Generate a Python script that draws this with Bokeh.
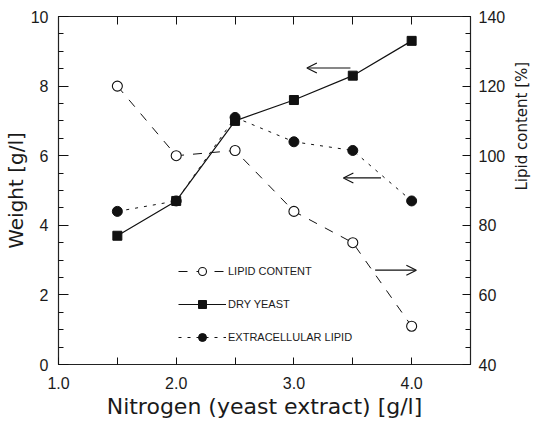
import math
from bokeh.plotting import figure
from bokeh.models import (Range1d, LinearAxis, FixedTicker, Legend, LegendItem,
                          Arrow, OpenHead, PrintfTickFormatter, ColumnDataSource)
from bokeh.embed import file_html
from bokeh.resources import INLINE

# ---- data ----
nitrogen = [1.5, 2.0, 2.5, 3.0, 3.5, 4.0]
lipid_content = [120, 100, 101.5, 84, 75, 51]          # right axis [%]
dry_yeast = [3.7, 4.7, 7.0, 7.6, 8.3, 9.3]              # left axis [g/l]
extracellular_lipid = [4.4, 4.7, 7.1, 6.4, 6.15, 4.7]   # left axis [g/l]

x_major = [1.0, 2.0, 3.0, 4.0]
x_minor = [1.5, 2.5, 3.5]
x_top = [1.5, 2.0, 2.5, 3.0, 3.5, 4.0]
y_left_major = [0, 2, 4, 6, 8, 10]
y_right_major = [40, 60, 80, 100, 120, 140]

series_labels = ["LIPID CONTENT", "DRY YEAST", "EXTRACELLULAR LIPID"]

INK = "#111111"
FONT = "Liberation Sans"
LFONT = "DejaVu Sans"

p = figure(width=542, height=421, x_range=Range1d(1.0, 4.5), y_range=Range1d(0, 10),
           output_backend="svg", toolbar_location=None,
           min_border_left=58, min_border_right=69, min_border_top=16, min_border_bottom=54,
           x_axis_location=None, y_axis_location=None)
p.extra_y_ranges = {"right": Range1d(40, 140)}
p.grid.visible = False
p.outline_line_color = "#222222"
p.outline_line_width = 1.2
p.background_fill_color = "white"
p.border_fill_color = "white"

def style_axis(ax, major_in, minor_in, label_size="16px"):
    ax.axis_line_color = None
    ax.major_tick_in = major_in
    ax.major_tick_out = 0
    ax.minor_tick_in = minor_in
    ax.minor_tick_out = 0
    ax.major_tick_line_color = INK
    ax.minor_tick_line_color = INK
    ax.major_label_text_font = FONT
    ax.major_label_text_font_size = label_size
    ax.major_label_text_color = "#1a1a1a"
    ax.axis_label_text_font = LFONT
    ax.axis_label_text_font_style = "normal"
    ax.axis_label_text_color = "#1a1a1a"

# left axis
yl = LinearAxis(ticker=FixedTicker(ticks=y_left_major,
                                   minor_ticks=[v / 2 for v in range(0, 21)]),
                axis_label="Weight [g/l]")
style_axis(yl, 10, 5)
yl.major_label_standoff = 10
yl.axis_label_standoff = 0
yl.axis_label_text_font_size = "20px"
p.add_layout(yl, "left")

# right axis (ticks and numbers)
yr = LinearAxis(y_range_name="right",
                ticker=FixedTicker(ticks=y_right_major,
                                   minor_ticks=[40 + 5 * i for i in range(21)]))
style_axis(yr, 8, 5)
yr.major_label_standoff = 8
p.add_layout(yr, "right")

# second right axis carrying only the title, reading bottom-to-top
yr_title = LinearAxis(y_range_name="right", ticker=FixedTicker(ticks=[]),
                      axis_label="Lipid content [%]", bounds=(40, 119.4))
style_axis(yr_title, 0, 0)
yr_title.major_tick_line_color = None
yr_title.minor_tick_line_color = None
yr_title.major_label_standoff = 0
yr_title.axis_label_standoff = 13
yr_title.axis_label_text_font_size = "15px"
yr_title.axis_label_orientation = math.pi / 2
p.add_layout(yr_title, "right")

# bottom axis
xb = LinearAxis(ticker=FixedTicker(ticks=x_major, minor_ticks=x_minor),
                formatter=PrintfTickFormatter(format="%.1f"),
                axis_label="Nitrogen (yeast extract) [g/l]")
style_axis(xb, 7, 7)
xb.major_label_standoff = 12
xb.axis_label_standoff = 2
xb.axis_label_text_font_size = "22px"
p.add_layout(xb, "below")

# top axis (ticks only, no labels)
xt = LinearAxis(ticker=FixedTicker(ticks=[], minor_ticks=x_top))
style_axis(xt, 8, 8)
xt.major_label_standoff = 0
p.add_layout(xt, "above")

# ---- series ----
src = ColumnDataSource(dict(x=nitrogen, lip=lipid_content, dry=dry_yeast, ext=extracellular_lipid))

l1 = p.line("x", "lip", source=src, y_range_name="right", line_color=INK,
            line_width=1, line_dash="9 9")
s1 = p.scatter("x", "lip", source=src, y_range_name="right", marker="circle", size=10,
               fill_color="white", line_color=INK, line_width=1.1)

l2 = p.line("x", "dry", source=src, line_color=INK, line_width=1.2)
s2 = p.scatter("x", "dry", source=src, marker="square", size=9, fill_color=INK, line_color=INK)

l3 = p.line("x", "ext", source=src, line_color=INK, line_width=1, line_dash="3 6")
s3 = p.scatter("x", "ext", source=src, marker="circle", size=10, fill_color=INK, line_color=INK)

legend = Legend(items=[LegendItem(label=series_labels[0], renderers=[l1, s1]),
                       LegendItem(label=series_labels[1], renderers=[l2, s2]),
                       LegendItem(label=series_labels[2], renderers=[l3, s3])],
                location=(120, 17), orientation="vertical")
legend.glyph_width = 48
legend.glyph_height = 20
legend.spacing = 13
legend.padding = 0
legend.margin = 0
legend.label_standoff = 2
legend.border_line_color = None
legend.background_fill_alpha = 0
legend.label_text_font = FONT
legend.label_text_font_size = "11px"
legend.label_text_color = "#1a1a1a"
p.add_layout(legend, "center")

# ---- arrows pointing to the relevant axis ----
arrows = [  # (tail_x, head_x, y in left-axis units)
    (3.48, 3.11, 8.52),
    (3.74, 3.42, 5.36),
    (3.69, 4.04, 2.71),
]
for tx, hx, yy in arrows:
    p.add_layout(Arrow(end=OpenHead(size=10, line_color=INK, line_width=1.2),
                       x_start=tx, y_start=yy, x_end=hx, y_end=yy,
                       line_color=INK, line_width=1.2))

open("out.html", "w").write(file_html(p, INLINE))
